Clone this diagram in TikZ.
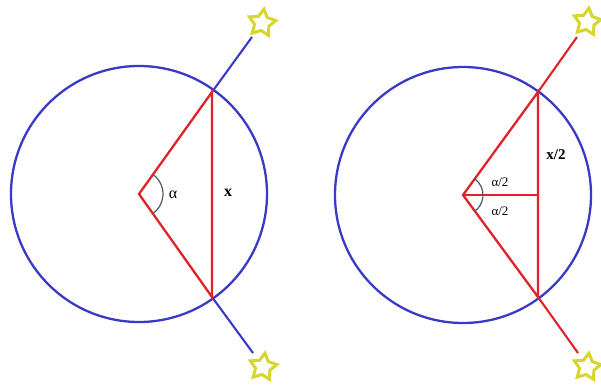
\documentclass[tikz,border=0pt]{standalone}
\usepackage{fontspec}
\setmainfont{Liberation Serif}
\usepackage{xcolor}
\definecolor{circblue}{HTML}{3A3AC4}
\definecolor{chordred}{HTML}{E0222A}
\definecolor{stargold}{HTML}{D6D62E}
\definecolor{arcgrey}{HTML}{4A5A66}
\usepackage{tikz}
\usetikzlibrary{shapes.geometric, calc}

\tikzset{
  rim/.style={draw=circblue, line width=2.3pt},
  seg/.style={draw=chordred, line width=2.3pt},
  ray/.style={line width=2.1pt},
  starmark/.style={star, star points=5, star point ratio=1.85, minimum size=28pt, inner sep=0pt,
    draw=stargold, line width=3pt, fill=white, rotate=-8},
  anglearc/.style={draw=arcgrey, line width=1.2pt},
  lbl/.style={inner sep=0pt}
}

\begin{document}
\begin{tikzpicture}[x=1pt, y=-1pt]
  \useasboundingbox (0,0) rectangle (601,385);
  % left circle
  \coordinate (O1) at (139,194);
  \coordinate (A1) at (212,92);
  \coordinate (B1) at (212,297);
  \coordinate (P1) at (252,37);
  \coordinate (Q1) at (253,353);
  \draw[rim] (O1) circle[radius=128];
  \node[starmark] (s1) at (262,23) {};
  \node[starmark] (t1) at (263,367) {};
  \draw[ray, circblue] (A1) -- (P1);
  \draw[ray, circblue] (B1) -- (Q1);
  \draw[seg, line join=miter] (A1) -- (O1) -- (B1) -- cycle;
  \draw[anglearc] ($(O1)+(-54:24)$) arc[start angle=-54, end angle=54, radius=24];
  \node[lbl, font=\fontsize{16}{16}\selectfont] (al) at (173,195) {α};
  \node[lbl, font=\fontsize{16}{16}\selectfont\bfseries] (xl) at (228,193) {x};
  % right circle
  \coordinate (O2) at (463,195);
  \coordinate (A2) at (538,92);
  \coordinate (B2) at (538,297);
  \coordinate (M2) at (538,195);
  \coordinate (P2) at (577,37);
  \coordinate (Q2) at (578,353);
  \draw[rim] (O2) circle[radius=128];
  \node[starmark] (s2) at (587,22) {};
  \node[starmark] (t2) at (587,367) {};
  \draw[ray, chordred] (A2) -- (P2);
  \draw[ray, chordred] (B2) -- (Q2);
  \draw[seg, line join=miter] (A2) -- (O2) -- (B2) -- cycle;
  \draw[seg] (O2) -- (M2);
  \draw[anglearc] ($(O2)+(-54:20)$) arc[start angle=-54, end angle=54, radius=20];
  \foreach \n/\y in {ah/182, ag/211}
    \node[lbl, font=\fontsize{13}{13}\selectfont] (\n) at (500,\y) {α/2};
  \node[lbl, font=\fontsize{15}{15}\selectfont\bfseries] (xh) at (556,155) {x/2};
\end{tikzpicture}
\end{document}
